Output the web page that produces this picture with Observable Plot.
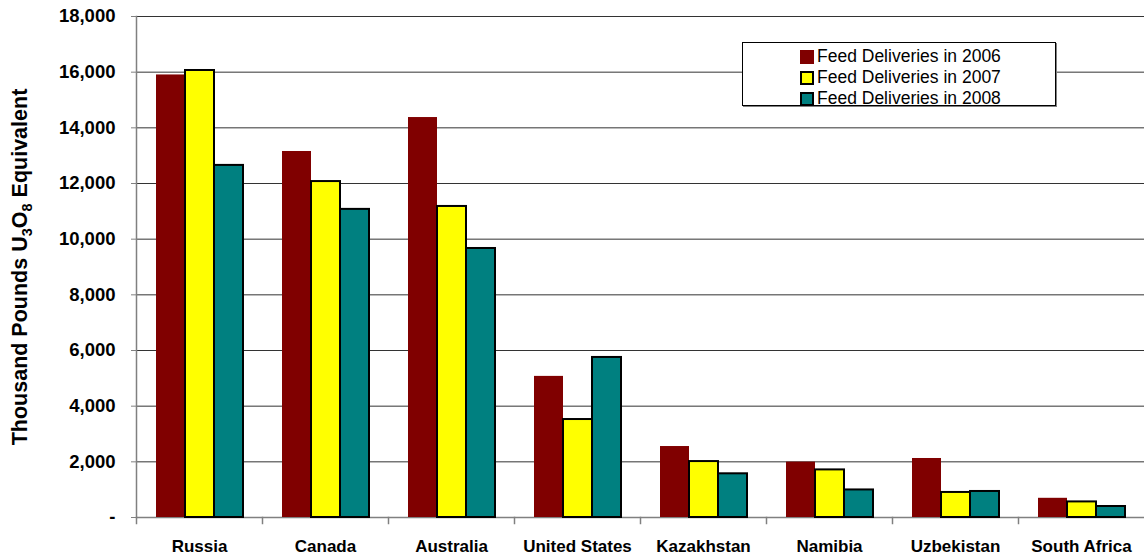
<!DOCTYPE html>
<html>
<head>
<meta charset="utf-8">
<script src="https://cdn.jsdelivr.net/npm/d3@7"></script>
<script src="https://cdn.jsdelivr.net/npm/@observablehq/plot@0.6"></script>
<style>
  html, body { margin: 0; padding: 0; background: #fff; }
  #wrap { position: relative; width: 1147px; height: 556px; font-family: "Liberation Sans", Arial, sans-serif; }
  #legend {
    position: absolute; left: 742px; top: 42px; width: 314px; height: 64px;
    border: 1px solid #000; box-shadow: 1px 1px 0 #808080; background: #fff;
    box-sizing: border-box; padding-top: 3px;
  }
  .item { display: flex; align-items: center; height: 21px; padding-left: 57px; font-size: 17.5px; color: #000; }
  .sw { width: 14px; height: 14px; box-sizing: border-box; margin-right: 3px; }
</style>
</head>
<body>
<div id="wrap"></div>
<script>
const countries = ["Russia", "Canada", "Australia", "United States", "Kazakhstan", "Namibia", "Uzbekistan", "South Africa"];
const series = ["Feed Deliveries in 2006", "Feed Deliveries in 2007", "Feed Deliveries in 2008"];
const v2006 = [15900, 13150, 14370, 5070, 2550, 1990, 2120, 690];
const v2007 = [16060, 12070, 11175, 3520, 2010, 1710, 900, 560];
const v2008 = [12650, 11070, 9665, 5750, 1570, 990, 935, 395];
const yTicks = [0, 2000, 4000, 6000, 8000, 10000, 12000, 14000, 16000, 18000];
const colors = ["#800000", "#FFFF00", "#008080"];

const values = [v2006, v2007, v2008];
const data = countries.flatMap((c, i) => series.map((s, j) => ({country: c, series: s, value: values[j][i]})));

const chart = Plot.plot({
  width: 1147,
  height: 556,
  marginLeft: 133,
  marginRight: 0,
  marginTop: 16,
  marginBottom: 39,
  style: {fontFamily: "'Liberation Sans', Arial, sans-serif", background: "#fff", overflow: "visible"},
  fx: {domain: countries, paddingInner: 0, paddingOuter: 0, label: null},
  x: {domain: series, paddingInner: 0, paddingOuter: 0.66, axis: null},
  y: {domain: [0, 18000], label: null},
  color: {domain: series, range: colors},
  marks: [
    Plot.gridY(yTicks.filter(d => d > 0), {stroke: "#333", strokeOpacity: 1, strokeWidth: 1}),
    Plot.ruleY([0], {stroke: "#808080", strokeWidth: 1.5}),
    Plot.frame({anchor: "left", fx: "Russia", stroke: "#808080", strokeWidth: 1.5}),
    Plot.frame({anchor: "left", stroke: "#808080", strokeWidth: 1.5, insetTop: 501, insetBottom: -6}),
    Plot.barY(data.filter(d => d.series === series[0]), {fx: "country", x: "series", y: "value", fill: "series"}),
    Plot.barY(data.filter(d => d.series !== series[0]), {fx: "country", x: "series", y: "value", fill: "series", stroke: "#000", strokeWidth: 2}),
    Plot.axisY(yTicks, {
      anchor: "left", tickSize: 5, tickPadding: 16, stroke: "#808080",
      tickFormat: d => d === 0 ? "-" : d3.format(",")(d),
      fontSize: 18.5, fontWeight: "bold", fill: "#000", label: null
    }),
    Plot.axisFx({anchor: "bottom", tickSize: 0, tickPadding: 22, fontSize: 17, fontWeight: "bold", fill: "#000", label: null})
  ]
});

const wrap = document.getElementById("wrap");
wrap.appendChild(chart);

// Y-axis title with subscripts
const svg = d3.select(chart);
const t = svg.append("text")
  .attr("transform", "translate(27,267) rotate(-90)")
  .attr("text-anchor", "middle")
  .attr("font-family", "'Liberation Sans', Arial, sans-serif")
  .attr("font-weight", "bold")
  .attr("font-size", 21.5)
  .attr("fill", "#000");
t.append("tspan").text("Thousand Pounds U");
t.append("tspan").attr("dy", 5).attr("font-size", 14.5).text("3");
t.append("tspan").attr("dy", -5).text("O");
t.append("tspan").attr("dy", 5).attr("font-size", 14.5).text("8");
t.append("tspan").attr("dy", -5).text(" Equivalent");

// Legend
const legend = document.createElement("div");
legend.id = "legend";
series.forEach((s, i) => {
  const item = document.createElement("div");
  item.className = "item";
  const sw = document.createElement("div");
  sw.className = "sw";
  sw.style.background = colors[i];
  sw.style.border = i === 0 ? "none" : "2px solid #000";
  const label = document.createElement("span");
  label.textContent = s;
  item.appendChild(sw);
  item.appendChild(label);
  legend.appendChild(item);
});
wrap.appendChild(legend);
</script>
</body>
</html>
